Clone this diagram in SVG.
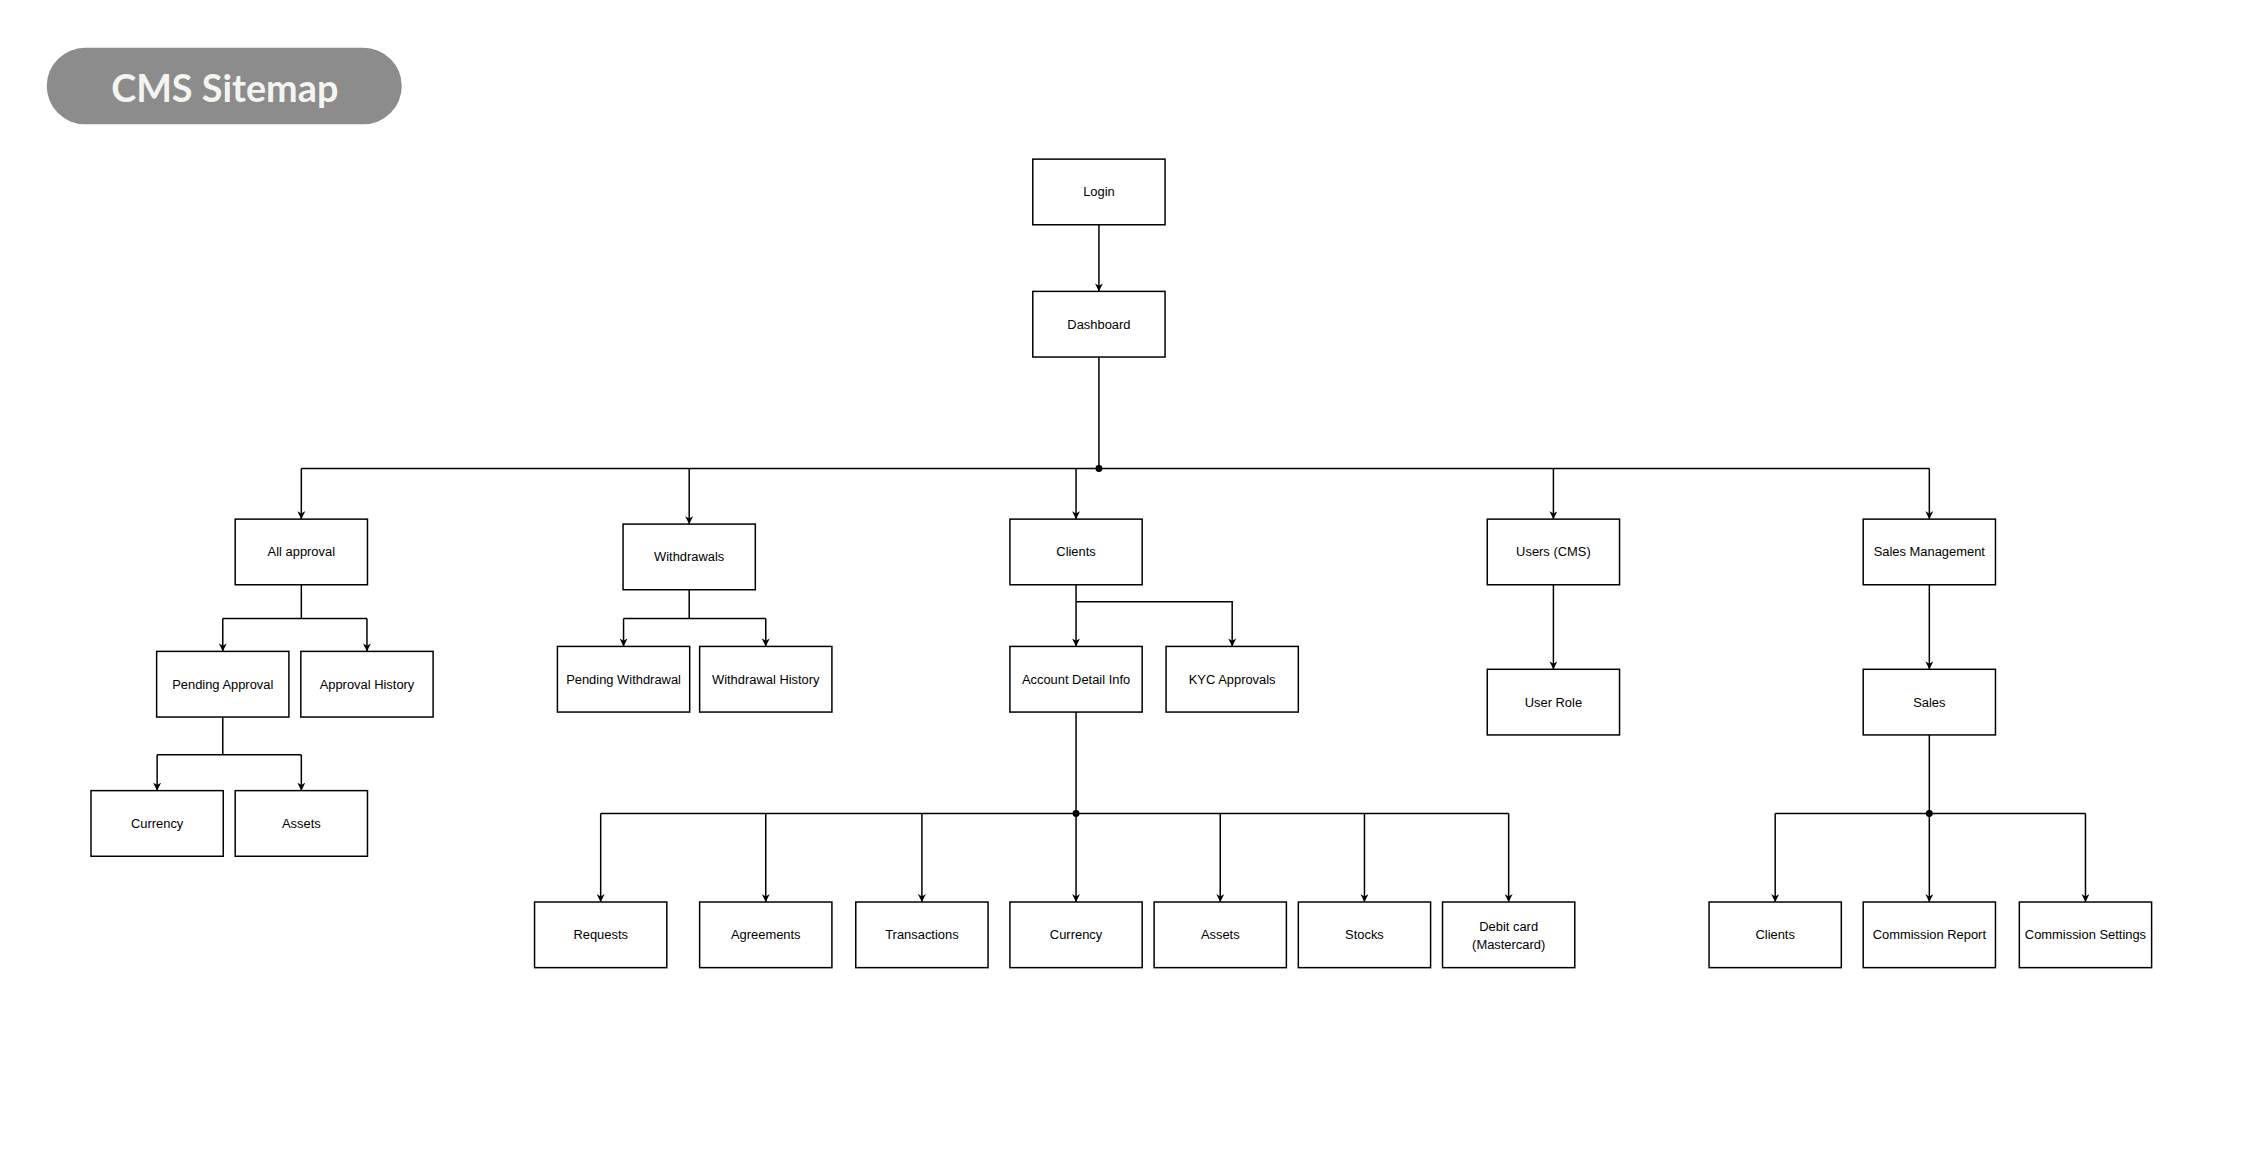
<svg xmlns="http://www.w3.org/2000/svg" width="2242" height="1152" viewBox="0 0 2242 1152">
<style>
.b{fill:#fff;stroke:#000;stroke-width:1.5}
.t{font-family:"Liberation Sans",Arial,sans-serif;font-size:13px;fill:#000;text-anchor:middle;dominant-baseline:central}
.c{fill:none;stroke:#000;stroke-width:1.5}
</style>
<defs><marker id="a" viewBox="0 0 10 10" refX="10" refY="5" markerWidth="8" markerHeight="8" orient="auto" markerUnits="userSpaceOnUse"><path d="M0,0 L10,5 L0,10 L3,5 z" fill="#000"/></marker></defs>
<rect width="2242" height="1152" fill="#fff"/>
<g transform="scale(0.9945)">
<g id="title"><rect x="47" y="48" width="357" height="77" rx="38.5" fill="#8c8c8c"/><text x="226" y="88" font-family="Lato,'Open Sans',sans-serif" font-weight="bold" font-size="38" fill="#f4f4f0" text-anchor="middle" dominant-baseline="central">CMS Sitemap</text></g>
<g id="connectors">
<path class="c" d="M1105,226 V293" marker-end="url(#a)"/>
<path class="c" d="M1105,359 V471 M303,471 H1940"/>
<circle cx="1105" cy="471" r="3.5"/>
<path class="c" d="M303,471 V522" marker-end="url(#a)"/>
<path class="c" d="M693,471 V527" marker-end="url(#a)"/>
<path class="c" d="M1082,471 V522" marker-end="url(#a)"/>
<path class="c" d="M1562,471 V522" marker-end="url(#a)"/>
<path class="c" d="M1940,471 V522" marker-end="url(#a)"/>
<path class="c" d="M303,588 V622 M224,622 H369"/>
<path class="c" d="M224,622 V655" marker-end="url(#a)"/>
<path class="c" d="M369,622 V655" marker-end="url(#a)"/>
<path class="c" d="M224,721 V759 M158,759 H303"/>
<path class="c" d="M158,759 V795" marker-end="url(#a)"/>
<path class="c" d="M303,759 V795" marker-end="url(#a)"/>
<path class="c" d="M693,593 V622 M627,622 H770"/>
<path class="c" d="M627,622 V650" marker-end="url(#a)"/>
<path class="c" d="M770,622 V650" marker-end="url(#a)"/>
<path class="c" d="M1082,588 V650" marker-end="url(#a)"/>
<path class="c" d="M1082,605 H1239 V650" marker-end="url(#a)"/>
<path class="c" d="M1082,716 V818 M604,818 H1517"/>
<circle cx="1082" cy="818" r="3.5"/>
<path class="c" d="M604,818 V907" marker-end="url(#a)"/>
<path class="c" d="M770,818 V907" marker-end="url(#a)"/>
<path class="c" d="M927,818 V907" marker-end="url(#a)"/>
<path class="c" d="M1082,818 V907" marker-end="url(#a)"/>
<path class="c" d="M1227,818 V907" marker-end="url(#a)"/>
<path class="c" d="M1372,818 V907" marker-end="url(#a)"/>
<path class="c" d="M1517,818 V907" marker-end="url(#a)"/>
<path class="c" d="M1562,588 V673" marker-end="url(#a)"/>
<path class="c" d="M1940,588 V673" marker-end="url(#a)"/>
<path class="c" d="M1940,739 V818 M1785,818 H2097"/>
<circle cx="1940" cy="818" r="3.5"/>
<path class="c" d="M1785,818 V907" marker-end="url(#a)"/>
<path class="c" d="M1940,818 V907" marker-end="url(#a)"/>
<path class="c" d="M2097,818 V907" marker-end="url(#a)"/>
</g>
<g id="login"><rect class="b" x="1038.5" y="160" width="133" height="66"/><text class="t" x="1105" y="193">Login</text></g>
<g id="dashboard"><rect class="b" x="1038.5" y="293" width="133" height="66"/><text class="t" x="1105" y="326">Dashboard</text></g>
<g id="allapproval"><rect class="b" x="236.5" y="522" width="133" height="66"/><text class="t" x="303" y="555">All approval</text></g>
<g id="withdrawals"><rect class="b" x="626.5" y="527" width="133" height="66"/><text class="t" x="693" y="560">Withdrawals</text></g>
<g id="clients"><rect class="b" x="1015.5" y="522" width="133" height="66"/><text class="t" x="1082" y="555">Clients</text></g>
<g id="users"><rect class="b" x="1495.5" y="522" width="133" height="66"/><text class="t" x="1562" y="555">Users (CMS)</text></g>
<g id="salesmgmt"><rect class="b" x="1873.5" y="522" width="133" height="66"/><text class="t" x="1940" y="555">Sales Management</text></g>
<g id="pendingapproval"><rect class="b" x="157.5" y="655" width="133" height="66"/><text class="t" x="224" y="688">Pending Approval</text></g>
<g id="approvalhistory"><rect class="b" x="302.5" y="655" width="133" height="66"/><text class="t" x="369" y="688">Approval History</text></g>
<g id="currency1"><rect class="b" x="91.5" y="795" width="133" height="66"/><text class="t" x="158" y="828">Currency</text></g>
<g id="assets1"><rect class="b" x="236.5" y="795" width="133" height="66"/><text class="t" x="303" y="828">Assets</text></g>
<g id="pendingwithdrawal"><rect class="b" x="560.5" y="650" width="133" height="66"/><text class="t" x="627" y="683">Pending Withdrawal</text></g>
<g id="withdrawalhistory"><rect class="b" x="703.5" y="650" width="133" height="66"/><text class="t" x="770" y="683">Withdrawal History</text></g>
<g id="accountdetail"><rect class="b" x="1015.5" y="650" width="133" height="66"/><text class="t" x="1082" y="683">Account Detail Info</text></g>
<g id="kyc"><rect class="b" x="1172.5" y="650" width="133" height="66"/><text class="t" x="1239" y="683">KYC Approvals</text></g>
<g id="userrole"><rect class="b" x="1495.5" y="673" width="133" height="66"/><text class="t" x="1562" y="706">User Role</text></g>
<g id="sales"><rect class="b" x="1873.5" y="673" width="133" height="66"/><text class="t" x="1940" y="706">Sales</text></g>
<g id="requests"><rect class="b" x="537.5" y="907" width="133" height="66"/><text class="t" x="604" y="940">Requests</text></g>
<g id="agreements"><rect class="b" x="703.5" y="907" width="133" height="66"/><text class="t" x="770" y="940">Agreements</text></g>
<g id="transactions"><rect class="b" x="860.5" y="907" width="133" height="66"/><text class="t" x="927" y="940">Transactions</text></g>
<g id="currency2"><rect class="b" x="1015.5" y="907" width="133" height="66"/><text class="t" x="1082" y="940">Currency</text></g>
<g id="assets2"><rect class="b" x="1160.5" y="907" width="133" height="66"/><text class="t" x="1227" y="940">Assets</text></g>
<g id="stocks"><rect class="b" x="1305.5" y="907" width="133" height="66"/><text class="t" x="1372" y="940">Stocks</text></g>
<g id="debitcard"><rect class="b" x="1450.5" y="907" width="133" height="66"/><text class="t" x="1517" y="932">Debit card</text><text class="t" x="1517" y="950">(Mastercard)</text></g>
<g id="clients2"><rect class="b" x="1718.5" y="907" width="133" height="66"/><text class="t" x="1785" y="940">Clients</text></g>
<g id="commreport"><rect class="b" x="1873.5" y="907" width="133" height="66"/><text class="t" x="1940" y="940">Commission Report</text></g>
<g id="commsettings"><rect class="b" x="2030.5" y="907" width="133" height="66"/><text class="t" x="2097" y="940">Commission Settings</text></g>
</g>
</svg>
